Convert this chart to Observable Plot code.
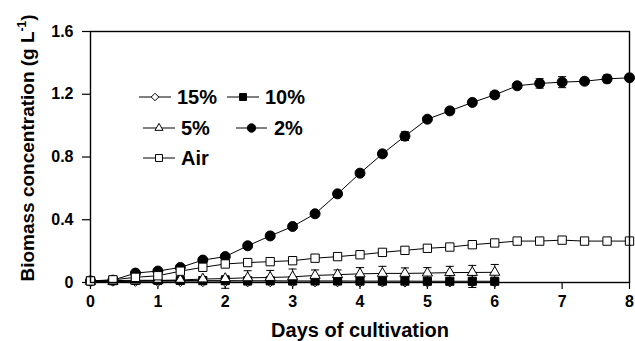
<!DOCTYPE html>
<html>
<head>
<meta charset="utf-8">
<script src="https://cdn.jsdelivr.net/npm/d3@7"></script>
<script src="https://cdn.jsdelivr.net/npm/@observablehq/plot@0.6"></script>
<style>
  html, body { margin: 0; padding: 0; background: #fff; }
  #chart svg { display: block; }
</style>
</head>
<body>
<div id="chart"></div>
<script>
// ---- data ----
const days = [0, 0.333, 0.667, 1, 1.333, 1.667, 2, 2.333, 2.667, 3, 3.333, 3.667, 4,
              4.333, 4.667, 5, 5.333, 5.667, 6, 6.333, 6.667, 7, 7.333, 7.667, 8];

const co2_15 = [0.008, 0.006, 0.005, 0.004, 0.004, 0.003, 0.003, 0.002, 0.002, 0.002, 0.002, 0.002, 0.001,
                0.001, 0.001, 0.001, 0.001, 0.001, 0.001];
const err_15 = [0.004, 0.004, 0.004, 0.004, 0.004, 0.004, 0.04, 0.004, 0.004, 0.004, 0.004, 0.004, 0.004,
                0.004, 0.004, 0.004, 0.004, 0.004, 0.004];

const co2_10 = [0.01, 0.012, 0.014, 0.014, 0.013, 0.012, 0.012, 0.011, 0.011, 0.01, 0.01, 0.01, 0.009,
                0.009, 0.009, 0.008, 0.008, 0.008, 0.008];
const err_10 = [0.004, 0.004, 0.004, 0.004, 0.004, 0.004, 0.004, 0.004, 0.004, 0.004, 0.004, 0.004, 0.004,
                0.004, 0.004, 0.004, 0.004, 0.04, 0.004];

const co2_5 = [0.006, 0.006, 0.01, 0.012, 0.016, 0.022, 0.025, 0.03, 0.032, 0.036, 0.045, 0.05, 0.055,
               0.058, 0.058, 0.06, 0.063, 0.064, 0.065];
const err_5 = [0.004, 0.004, 0.006, 0.008, 0.01, 0.012, 0.015, 0.045, 0.045, 0.05, 0.035, 0.03, 0.04,
               0.045, 0.035, 0.035, 0.04, 0.045, 0.05];

const co2_2 = [0.01, 0.015, 0.06, 0.073, 0.096, 0.143, 0.165, 0.234, 0.297, 0.357, 0.438, 0.565, 0.697,
               0.82, 0.933, 1.041, 1.094, 1.148, 1.196, 1.254, 1.269, 1.277, 1.283, 1.298, 1.305];
const err_2 = [0.004, 0.004, 0.006, 0.006, 0.006, 0.008, 0.008, 0.008, 0.008, 0.008, 0.01, 0.01, 0.01,
               0.012, 0.028, 0.012, 0.012, 0.015, 0.02, 0.012, 0.03, 0.035, 0.02, 0.025, 0.012];

const air = [0.01, 0.017, 0.033, 0.043, 0.072, 0.097, 0.118, 0.127, 0.133, 0.139, 0.155, 0.165, 0.177,
             0.192, 0.205, 0.218, 0.226, 0.241, 0.252, 0.264, 0.264, 0.27, 0.264, 0.264, 0.264];
const err_air = [0.004, 0.004, 0.004, 0.004, 0.005, 0.006, 0.006, 0.006, 0.006, 0.006, 0.006, 0.006, 0.006,
                 0.006, 0.006, 0.006, 0.006, 0.006, 0.006, 0.006, 0.006, 0.006, 0.006, 0.006, 0.006];

const seriesNames = ["15%", "10%", "5%", "2%", "Air"];
const xTicks = [0, 1, 2, 3, 4, 5, 6, 7, 8];
const yTicks = [0, 0.4, 0.8, 1.2, 1.6];
const xTitle = "Days of cultivation";
const yTitle = "Biomass concentration (g L";
const yTitleSup = "-1";

// ---- styling per series ----
const styles = {
  "15%": {values: co2_15, err: err_15, symbol: "diamond2", fill: "white", r: 4.2, lr: 3.4},
  "10%": {values: co2_10, err: err_10, symbol: "square", fill: "black", r: 4.6, lr: 3.9},
  "5%":  {values: co2_5,  err: err_5,  symbol: "triangle", fill: "white", r: 3.8, lr: 3.0},
  "2%":  {values: co2_2,  err: err_2,  symbol: "circle", fill: "black", r: 5, lr: 4.2},
  "Air": {values: air,    err: err_air, symbol: "square", fill: "white", r: 4.7, lr: 3.9}
};
const drawOrder = ["2%", "15%", "10%", "5%", "Air"];
const capHalf = 0.06; // days

function table(name) {
  const s = styles[name];
  return s.values.map((v, i) => ({series: name, day: days[i], value: v, err: s.err[i]}));
}

const marks = [];
for (const name of drawOrder) {
  const data = table(name);
  const s = styles[name];
  marks.push(
    Plot.ruleX(data, {x: "day", y1: d => d.value - d.err, y2: d => d.value + d.err, stroke: "black", strokeWidth: 1}),
    Plot.link(data, {x1: d => d.day - capHalf, x2: d => d.day + capHalf, y1: d => d.value + d.err, y2: d => d.value + d.err, stroke: "black", strokeWidth: 1}),
    Plot.link(data, {x1: d => d.day - capHalf, x2: d => d.day + capHalf, y1: d => d.value - d.err, y2: d => d.value - d.err, stroke: "black", strokeWidth: 1}),
    Plot.line(data, {x: "day", y: "value", stroke: "black", strokeWidth: 1}),
    Plot.dot(data, {x: "day", y: "value", symbol: () => s.symbol, r: s.r, fill: s.fill, stroke: "black", strokeWidth: 1})
  );
}

const chart = Plot.plot({
  width: 635,
  height: 341,
  marginLeft: 90,
  marginRight: 6,
  marginTop: 31,
  marginBottom: 59,
  style: {fontFamily: "'Liberation Sans', Arial, sans-serif", fontSize: "15px", fontWeight: "bold", color: "black", background: "white"},
  x: {domain: [0, 8], label: null},
  y: {domain: [0, 1.6], label: null},
  marks: [
    Plot.axisX({ticks: xTicks, tickSize: 7, tickPadding: 6, label: null, tickFormat: d => String(d),
                stroke: "black", strokeWidth: 1.2, fontSize: 16, fontWeight: "bold", fill: "black"}),
    Plot.axisY({ticks: yTicks, tickSize: 8, tickPadding: 9, label: null, tickFormat: d => d === 0 ? "0" : d.toFixed(1),
                stroke: "black", strokeWidth: 1.2, fontSize: 16, fontWeight: "bold", fill: "black"}),
    ...marks,
    Plot.frame({stroke: "black", strokeWidth: 1.4})
  ]
});
document.getElementById("chart").appendChild(chart);

// ---- titles ----
const svg = d3.select(chart);
svg.append("text")
  .attr("x", 360).attr("y", 337)
  .attr("text-anchor", "middle")
  .attr("font-size", 20).attr("font-weight", "bold").attr("fill", "black")
  .text(xTitle);

const yt = svg.append("text")
  .attr("transform", "translate(34,148) rotate(-90)")
  .attr("text-anchor", "middle")
  .attr("font-size", 19).attr("font-weight", "bold").attr("fill", "black");
yt.append("tspan").text(yTitle);
yt.append("tspan").attr("font-size", 12).attr("dy", -8).text(yTitleSup);
yt.append("tspan").attr("dy", 8).text(")");

// ---- legend (layout only; entries come from seriesNames) ----
const legendLayout = [
  {x1: 139, y: 97, w: 32, tx: 177},
  {x1: 227, y: 97, w: 32, tx: 265},
  {x1: 143, y: 128, w: 32, tx: 181},
  {x1: 236, y: 128, w: 31, tx: 274},
  {x1: 143, y: 158, w: 32, tx: 181}
];
const symbolMap = {circle: d3.symbolCircle, square: d3.symbolSquare, triangle: d3.symbolTriangle, diamond2: d3.symbolDiamond2};
const lg = svg.append("g").attr("text-anchor", "start");
seriesNames.forEach((name, i) => {
  const L = legendLayout[i], s = styles[name];
  const g = lg.append("g");
  g.append("line").attr("x1", L.x1).attr("x2", L.x1 + L.w).attr("y1", L.y).attr("y2", L.y)
    .attr("stroke", "black").attr("stroke-width", 1);
  g.append("path")
    .attr("d", d3.symbol(symbolMap[s.symbol], Math.PI * s.lr * s.lr)())
    .attr("transform", `translate(${L.x1 + L.w / 2},${L.y})`)
    .attr("fill", s.fill).attr("stroke", "black").attr("stroke-width", 1);
  g.append("text").attr("x", L.tx).attr("y", L.y).attr("dy", "0.36em")
    .attr("text-anchor", "start")
    .attr("font-size", 20).attr("font-weight", "bold").attr("fill", "black")
    .text(name);
});
</script>
</body>
</html>
